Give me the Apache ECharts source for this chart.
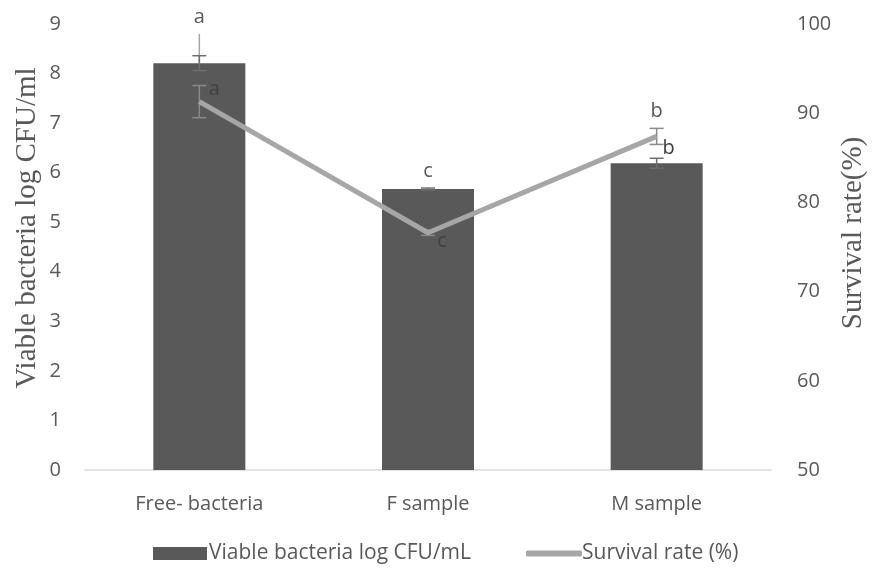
<!DOCTYPE html>
<html>
<head>
<meta charset="utf-8">
<script src="https://cdn.jsdelivr.net/npm/echarts@6/dist/echarts.min.js"></script>
<style>
  html, body { margin: 0; padding: 0; background: #fff; }
  #chart { width: 873px; height: 570px; }
</style>
</head>
<body>
<div id="chart"></div>
<script>
// Viable counts (bars, left axis) and survival rate (line, right axis)
const categories = ['Free- bacteria', 'F sample', 'M sample'];
const viable = [8.21, 5.67, 6.19];
const viableErr = [0.15, 0.02, 0.10];
const viableStem = [8.8, null, null];
const survival = [91.3, 76.6, 87.4];
const survivalErr = [1.8, 0.3, 0.9];
const viableLetters = ['a', 'c', 'b'];
const survivalLetters = ['a', 'c', 'b'];
const leftTitle = 'Viable bacteria log CFU/ml';
const rightTitle = 'Survival rate(%)';

const TXT = '#595959';
const SANS = '"Open Sans", "Noto Sans", sans-serif';
const SERIF = '"Liberation Serif", "DejaVu Serif", serif';
const FS = 20;

// Placement of the significance letters next to the survival points
const survivalLetterPlace = [
  { dx: 15, dy: -12 },
  { dx: 14, dy: 9 },
  { dx: 12, dy: 12 }
];

function whisker(x, yTop, yBot, color, cap) {
  return [
    { type: 'line', shape: { x1: x, y1: yTop, x2: x, y2: yBot },
      style: { stroke: color, lineWidth: 1.5 } },
    { type: 'line', shape: { x1: x - cap, y1: yTop, x2: x + cap, y2: yTop },
      style: { stroke: color, lineWidth: 1.5 } },
    { type: 'line', shape: { x1: x - cap, y1: yBot, x2: x + cap, y2: yBot },
      style: { stroke: color, lineWidth: 1.5 } }
  ];
}

const chart = echarts.init(document.getElementById('chart'), null, { renderer: 'canvas' });

chart.setOption({
  animation: false,
  grid: { left: 85, right: 102, top: 24, bottom: 100 },
  // vertical axis titles
  graphic: [
    { type: 'text', x: 27, y: 228, rotation: Math.PI / 2,
      style: { text: leftTitle, fill: TXT, font: '29px ' + SERIF,
        align: 'center', verticalAlign: 'middle' } },
    { type: 'text', x: 853, y: 233, rotation: Math.PI / 2,
      style: { text: rightTitle, fill: TXT, font: '29px ' + SERIF,
        align: 'center', verticalAlign: 'middle' } }
  ],
  legend: [
    {
      left: 148,
      top: 538,
      itemWidth: 54,
      itemHeight: 13,
      itemGap: 4,
      textStyle: { color: TXT, fontFamily: SANS, fontSize: 21, padding: [0, 0, 0, -3] },
      data: [{ name: 'Viable bacteria log CFU/mL', icon: 'rect' }]
    },
    {
      left: 521,
      top: 538,
      itemWidth: 56,
      itemHeight: 6,
      textStyle: { color: TXT, fontFamily: SANS, fontSize: 21, padding: [0, 0, 0, -5] },
      data: [{ name: 'Survival rate (%)', icon: 'roundRect' }]
    }
  ],
  xAxis: {
    type: 'category',
    data: categories,
    axisLine: { lineStyle: { color: '#d9d9d9', width: 1.5 } },
    axisTick: { show: false },
    axisLabel: { color: TXT, fontFamily: SANS, fontSize: FS, margin: 24 }
  },
  yAxis: [
    {
      type: 'value', min: 0, max: 9, interval: 1,
      axisLine: { show: false }, axisTick: { show: false },
      splitLine: { show: false },
      axisLabel: { color: TXT, fontFamily: SANS, fontSize: FS, margin: 24 }
    },
    {
      type: 'value', min: 50, max: 100, interval: 10,
      axisLine: { show: false }, axisTick: { show: false },
      splitLine: { show: false },
      axisLabel: { color: TXT, fontFamily: SANS, fontSize: FS, margin: 26 }
    }
  ],
  series: [
    {
      name: 'Viable bacteria log CFU/mL',
      type: 'bar',
      yAxisIndex: 0,
      barWidth: 92,
      data: viable,
      itemStyle: { color: '#595959' },
      z: 2
    },
    {
      name: 'Survival rate (%)',
      type: 'line',
      yAxisIndex: 1,
      data: survival,
      symbol: 'none',
      lineStyle: { color: '#a6a6a6', width: 5 },
      itemStyle: { color: '#a6a6a6' },
      z: 4
    },
    {
      // error bars of the viable counts plus the letter above each bar
      type: 'custom',
      yAxisIndex: 0,
      data: viable.map((v, i) => [i, v]),
      z: 3,
      silent: true,
      renderItem: function (params, api) {
        const i = api.value(0);
        const v = api.value(1);
        const x = api.coord([i, v])[0];
        const yTop = api.coord([i, v + viableErr[i]])[1];
        const yBot = api.coord([i, v - viableErr[i]])[1];
        const kids = [];
        let labelY = yTop;
        if (viableStem[i] != null) {
          const ys = api.coord([i, viableStem[i]])[1];
          const yb = api.coord([i, v])[1];
          kids.push({ type: 'line', shape: { x1: x, y1: ys, x2: x, y2: yb },
            style: { stroke: '#a6a6a6', lineWidth: 1.5 } });
          labelY = Math.min(labelY, ys);
        }
        // top of the survival whisker at the same category
        const y0 = api.coord([i, 0])[1];
        const y9 = api.coord([i, 9])[1];
        const sTop = y0 - (survival[i] + survivalErr[i] - 50) / 50 * (y0 - y9);
        labelY = Math.min(labelY, sTop);
        whisker(x, yTop, yBot, '#6e6e6e', 7).forEach(k => kids.push(k));
        kids.push({ type: 'text', x: x, y: labelY - 17,
          style: { text: viableLetters[i], fill: TXT, font: FS + 'px ' + SANS,
            align: 'center', verticalAlign: 'middle' } });
        return { type: 'group', children: kids };
      }
    },
    {
      // error bars of the survival rate plus the letter beside each point
      type: 'custom',
      yAxisIndex: 1,
      data: survival.map((v, i) => [i, v]),
      z: 3,
      silent: true,
      renderItem: function (params, api) {
        const i = api.value(0);
        const v = api.value(1);
        const p = api.coord([i, v]);
        const yTop = api.coord([i, v + survivalErr[i]])[1];
        const yBot = api.coord([i, v - survivalErr[i]])[1];
        const kids = whisker(p[0], yTop, yBot, '#8a8a8a', 7);
        const pl = survivalLetterPlace[i];
        kids.push({ type: 'text', x: p[0] + pl.dx, y: p[1] + pl.dy, z2: 10,
          style: { text: survivalLetters[i], fill: '#404040', font: FS + 'px ' + SANS,
            align: 'center', verticalAlign: 'middle' } });
        return { type: 'group', children: kids };
      }
    }
  ]
});
</script>
</body>
</html>
